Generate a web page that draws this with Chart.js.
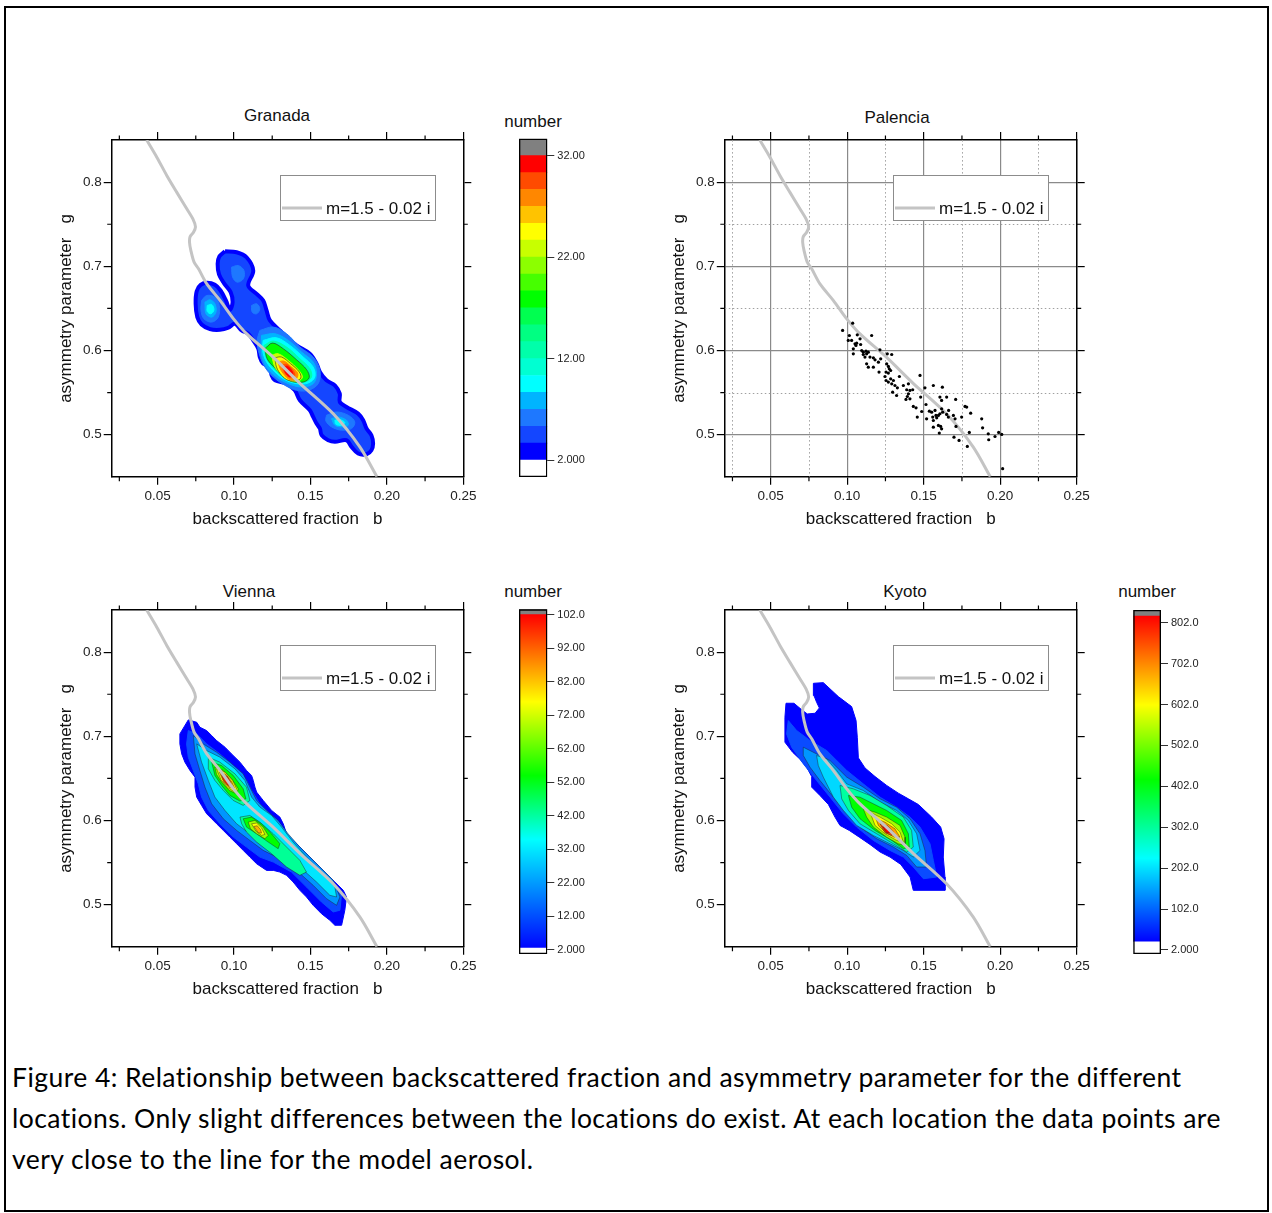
<!DOCTYPE html>
<html>
<head>
<meta charset="utf-8">
<script src="https://cdn.jsdelivr.net/npm/chart.js@4.4.1/dist/chart.umd.min.js"></script>
<style>
  body { margin: 0; background: #fff; width: 1272px; height: 1213px; position: relative; overflow: hidden;
         font-family: "Liberation Sans", Arial, sans-serif; color: #111; }
  .frame { position: absolute; left: 4px; top: 6px; width: 1261px; height: 1202px; border: 2px solid #000; }
  canvas { position: absolute; }
  .lbl { position: absolute; font-size: 17px; line-height: 1; transform: translate(-50%, -50%); white-space: nowrap; }
  .caption { position: absolute; left: 12px; top: 1057px; font-family: Lato, "Open Sans", sans-serif;
             font-size: 26.5px; letter-spacing: 0.45px; line-height: 41px; white-space: nowrap; color: #000; }
</style>
</head>
<body>
<div class="frame"></div>

<div class="lbl" style="left:277px; top:115px;">Granada</div>
<div class="lbl" style="left:897px; top:117px;">Palencia</div>
<div class="lbl" style="left:249px; top:591px;">Vienna</div>
<div class="lbl" style="left:905px; top:591px;">Kyoto</div>
<div class="lbl" style="left:533px; top:121px;">number</div>
<div class="lbl" style="left:533px; top:591px;">number</div>
<div class="lbl" style="left:1147px; top:591px;">number</div>

<canvas id="granada" width="440" height="410" style="left:40px; top:130px;"></canvas>
<canvas id="palencia" width="440" height="410" style="left:653px; top:130px;"></canvas>
<canvas id="vienna" width="440" height="410" style="left:40px; top:600px;"></canvas>
<canvas id="kyoto" width="440" height="410" style="left:653px; top:600px;"></canvas>
<canvas id="barGranada" width="100" height="360" style="left:505px; top:128px;"></canvas>
<canvas id="barVienna" width="100" height="367" style="left:505px; top:598px;"></canvas>
<canvas id="barKyoto" width="100" height="367" style="left:1119px; top:598px;"></canvas>

<div class="caption">Figure 4: Relationship between backscattered fraction and asymmetry parameter for the different<br>locations. Only slight differences between the locations do exist. At each location the data points are<br>very close to the line for the model aerosol.</div>

<script>
// axes
const bMajor = [0.05, 0.10, 0.15, 0.20, 0.25];
const bMinor = [0.025, 0.075, 0.125, 0.175, 0.225];
const gMajor = [0.5, 0.6, 0.7, 0.8];
const gMinor = [0.55, 0.65, 0.75];

// model aerosol line, m = 1.5 - 0.02 i
const curveB = [0.0429, 0.0496, 0.0561, 0.0626, 0.0692, 0.0731, 0.0748, 0.0735, 0.0713, 0.0709, 0.0718,
                0.0739, 0.0768, 0.0822, 0.0910, 0.0997, 0.1082, 0.1256, 0.1431, 0.1648, 0.1823, 0.1935];
const curveG = [0.85, 0.8294, 0.8077, 0.7879, 0.7681, 0.7563, 0.7470, 0.7404, 0.7353, 0.7286, 0.7187,
                0.7049, 0.6970, 0.6791, 0.6593, 0.6376, 0.620, 0.592, 0.561, 0.525, 0.4854, 0.45];

// Palencia single measurements
const palB = [0.0970,0.1036,0.1014,0.1066,0.1084,0.1007,0.1029,0.1051,0.1062,0.1057,
  0.1040,0.1088,0.1160,0.1095,0.1105,0.1123,0.1138,0.1127,0.1105,0.1040,
  0.1116,0.1149,0.1182,0.1171,0.1214,0.1219,0.1204,0.1127,0.1138,0.1171,
  0.1208,0.1262,0.1291,0.1258,0.1269,0.1275,0.1284,0.1254,0.1269,0.1247,
  0.1254,0.1269,0.1284,0.1302,0.1291,0.1312,0.1341,0.1328,0.1297,0.1323,
  0.1367,0.1400,0.1389,0.1410,0.1428,0.1400,0.1393,0.1410,0.1384,0.1432,
  0.1450,0.1458,0.1476,0.1480,0.1508,0.1515,0.1519,0.1487,0.1537,0.1552,
  0.1563,0.1574,0.1580,0.1585,0.1596,0.1606,0.1559,0.1563,0.1606,0.1617,
  0.1622,0.1650,0.1617,0.1624,0.1650,0.1663,0.1661,0.1563,0.1596,0.1611,
  0.1617,0.1602,0.1694,0.1705,0.1711,0.1698,0.1731,0.1709,0.1748,0.1770,
  0.1781,0.1807,0.1798,0.1785,0.1879,0.1885,0.1922,0.1925,0.1966,0.1990,
  0.2010,0.2016];
const palG = [0.6238,0.6325,0.6178,0.6186,0.6139,0.6119,0.6119,0.6079,0.6087,0.6059,
  0.6020,0.6071,0.6178,0.6000,0.5980,0.5992,0.5980,0.5960,0.5952,0.5960,
  0.5921,0.5921,0.5889,0.5913,0.6008,0.5901,0.5861,0.5841,0.5802,0.5802,
  0.5743,0.5960,0.5952,0.5841,0.5810,0.5782,0.5762,0.5743,0.5731,0.5691,
  0.5643,0.5624,0.5663,0.5643,0.5604,0.5584,0.5691,0.5556,0.5505,0.5465,
  0.5584,0.5604,0.5533,0.5525,0.5533,0.5485,0.5453,0.5426,0.5418,0.5335,
  0.5319,0.5208,0.5703,0.5446,0.5556,0.5358,0.5188,0.5275,0.5279,0.5267,
  0.5584,0.5287,0.5228,0.5200,0.5228,0.5248,0.5208,0.5168,0.5446,0.5406,
  0.5564,0.5446,0.5307,0.5267,0.5240,0.5287,0.5208,0.5089,0.5109,0.5097,
  0.5069,0.5018,0.5228,0.5188,0.5097,0.4970,0.4931,0.5418,0.5208,0.5335,
  0.5327,0.5255,0.5026,0.4860,0.5188,0.5081,0.5010,0.4939,0.4978,0.5026,
  0.5002,0.4595];

// Granada density contours, [b, g] outlines
const gOuter = [[0.0941,0.7179],[0.1017,0.7167],[0.1082,0.7108],[0.1126,0.6950],[0.1093,0.6772],[0.1148,0.6673],
  [0.1191,0.6594],[0.1213,0.6476],[0.1235,0.6357],[0.1300,0.6238],[0.1344,0.6159],[0.1409,0.6060],[0.1496,0.5961],
  [0.1540,0.5843],[0.1562,0.5744],[0.1605,0.5645],[0.1660,0.5586],[0.1692,0.5487],[0.1692,0.5388],[0.1736,0.5329],
  [0.1812,0.5250],[0.1845,0.5171],[0.1867,0.5072],[0.1899,0.4993],[0.1910,0.4894],[0.1899,0.4815],[0.1867,0.4767],
  [0.1812,0.4775],[0.1769,0.4854],[0.1736,0.4933],[0.1660,0.4914],[0.1616,0.4933],[0.1573,0.4993],[0.1562,0.5072],
  [0.1540,0.5131],[0.1518,0.5210],[0.1496,0.5289],[0.1431,0.5408],[0.1398,0.5526],[0.1344,0.5606],[0.1268,0.5645],
  [0.1246,0.5704],[0.1235,0.5803],[0.1191,0.5843],[0.1169,0.5922],[0.1159,0.6021],[0.1126,0.6120],[0.1093,0.6199],
  [0.1050,0.6238],[0.1006,0.6317],[0.0963,0.6270],[0.0908,0.6246],[0.0843,0.6254],[0.0788,0.6309],[0.0760,0.6396],
  [0.0749,0.6555],[0.0756,0.6705],[0.0782,0.6780],[0.0825,0.6804],[0.0875,0.6780],[0.0912,0.6713],[0.0947,0.6594],
  [0.0973,0.6483],[0.0991,0.6574],[0.0978,0.6693],[0.0934,0.6800],[0.0902,0.6903],[0.0893,0.7029],[0.0904,0.7116]];
const gTop3 = [[0.0984,0.6990],[0.1028,0.7009],[0.1065,0.6950],[0.1061,0.6851],[0.1021,0.6812],[0.0991,0.6871]];
const gLeft3 = [[0.0788,0.6594],[0.0821,0.6653],[0.0875,0.6634],[0.0904,0.6535],[0.0897,0.6396],[0.0854,0.6337],[0.0803,0.6377],[0.0784,0.6476]];
const gMid3 = [[0.1115,0.6535],[0.1148,0.6555],[0.1169,0.6495],[0.1148,0.6436],[0.1119,0.6456]];
const gLow3 = [[0.1605,0.5230],[0.1671,0.5269],[0.1747,0.5230],[0.1790,0.5151],[0.1769,0.5072],[0.1703,0.5053],[0.1638,0.5092],[0.1601,0.5163]];
const gCore3 = [[0.1169,0.6238],[0.1257,0.6278],[0.1344,0.6199],[0.1431,0.6041],[0.1518,0.5922],[0.1562,0.5764],[0.1551,0.5606],
  [0.1485,0.5526],[0.1409,0.5526],[0.1333,0.5586],[0.1257,0.5685],[0.1202,0.5803],[0.1165,0.5961],[0.1152,0.6120]];
const gLeft4 = [[0.0810,0.6574],[0.0843,0.6602],[0.0875,0.6555],[0.0882,0.6456],[0.0854,0.6396],[0.0817,0.6436]];
const gLow4 = [[0.1638,0.5190],[0.1681,0.5210],[0.1736,0.5171],[0.1747,0.5111],[0.1703,0.5092],[0.1660,0.5111]];
const gCore4 = [[0.1180,0.6179],[0.1268,0.6199],[0.1355,0.6120],[0.1442,0.5981],[0.1518,0.5863],[0.1540,0.5724],[0.1518,0.5606],
  [0.1442,0.5566],[0.1355,0.5606],[0.1278,0.5685],[0.1213,0.5803],[0.1180,0.5961]];
const gLeft5 = [[0.0825,0.6535],[0.0854,0.6547],[0.0869,0.6483],[0.0849,0.6436],[0.0825,0.6464]];
const gLow5 = [[0.1660,0.5171],[0.1692,0.5179],[0.1725,0.5143],[0.1703,0.5111],[0.1666,0.5123]];
const gCore5 = [[0.1191,0.6120],[0.1278,0.6151],[0.1366,0.6060],[0.1453,0.5922],[0.1518,0.5803],[0.1529,0.5685],[0.1485,0.5613],
  [0.1409,0.5606],[0.1333,0.5653],[0.1268,0.5744],[0.1213,0.5863],[0.1187,0.6001]];
const gCore6 = [[0.1196,0.6060],[0.1257,0.6112],[0.1344,0.6041],[0.1431,0.5902],[0.1496,0.5784],[0.1507,0.5685],[0.1464,0.5625],
  [0.1387,0.5625],[0.1322,0.5685],[0.1261,0.5784],[0.1213,0.5902]];
const gCore7 = [[0.1202,0.6021],[0.1252,0.6088],[0.1322,0.6021],[0.1409,0.5890],[0.1475,0.5772],[0.1492,0.5677],[0.1453,0.5625],
  [0.1376,0.5633],[0.1318,0.5704],[0.1261,0.5803],[0.1217,0.5902]];
const gCore8 = [[0.1246,0.5942],[0.1289,0.5961],[0.1355,0.5882],[0.1420,0.5772],[0.1448,0.5685],[0.1420,0.5637],[0.1361,0.5645],
  [0.1311,0.5716],[0.1268,0.5803]];
const gCore9 = [[0.1268,0.5914],[0.1311,0.5922],[0.1370,0.5843],[0.1427,0.5744],[0.1437,0.5673],[0.1409,0.5641],[0.1355,0.5645],
  [0.1311,0.5704],[0.1278,0.5803]];
const gCore10 = [[0.1289,0.5863],[0.1326,0.5874],[0.1376,0.5803],[0.1416,0.5732],[0.1409,0.5665],[0.1366,0.5653],[0.1326,0.5716],[0.1300,0.5791]];
const gCore11 = [[0.1311,0.5823],[0.1344,0.5835],[0.1383,0.5772],[0.1398,0.5704],[0.1370,0.5677],[0.1337,0.5724]];
const gCore12 = [[0.1326,0.5803],[0.1350,0.5811],[0.1379,0.5756],[0.1383,0.5700],[0.1359,0.5693],[0.1335,0.5744]];

// Granada colour levels (number of cases)
const granadaLevels = [0.33, 2, 3.67, 5.33, 7, 8.67, 10.33, 12, 13.67, 15.33, 17, 18.67, 20.33, 22, 23.67, 25.33, 27, 28.67, 30.33, 32, 33.67];
const granadaBandColors = ['#0000ff','#1446ff','#1e78ff','#00b4ff','#00ffff','#00ffd2','#00ffaa','#00ff82','#00ff50',
  '#00ff00','#46ff00','#8cff00','#c8ff00','#ffff00','#ffc300','#ff8700','#ff4b00','#ff0000'];
const granadaTicks = [2, 12, 22, 32];
const granadaTickLabels = ['2.000', '12.00', '22.00', '32.00'];
const granadaContours = [gOuter, gTop3, gLeft3, gMid3, gLow3, gCore3, gLeft4, gLow4, gCore4, gLeft5, gLow5, gCore5,
  gCore6, gCore7, gCore8, gCore9, gCore10, gCore11, gCore12];
const granadaContourBand = [1, 2, 2, 2, 2, 2, 3, 3, 3, 4, 4, 4, 6, 9, 12, 13, 15, 16, 17];

// Vienna density contours
const vOuter = [[0.0646,0.7029],[0.0701,0.7195],[0.0756,0.7167],[0.0777,0.7108],[0.0821,0.7068],[0.0854,0.7009],[0.0886,0.6950],
  [0.0941,0.6871],[0.0984,0.6791],[0.1039,0.6693],[0.1082,0.6594],[0.1115,0.6535],[0.1126,0.6476],[0.1137,0.6396],[0.1148,0.6337],
  [0.1191,0.6238],[0.1246,0.6119],[0.1300,0.6040],[0.1322,0.5961],[0.1344,0.5842],[0.1387,0.5763],[0.1431,0.5684],[0.1474,0.5605],
  [0.1518,0.5526],[0.1561,0.5447],[0.1605,0.5368],[0.1660,0.5269],[0.1715,0.5170],[0.1736,0.5091],[0.1725,0.4933],[0.1704,0.4755],
  [0.1660,0.4755],[0.1627,0.4814],[0.1572,0.4893],[0.1518,0.4992],[0.1474,0.5091],[0.1431,0.5170],[0.1387,0.5269],[0.1344,0.5348],
  [0.1300,0.5387],[0.1257,0.5407],[0.1213,0.5407],[0.1148,0.5486],[0.1104,0.5565],[0.1060,0.5645],[0.1017,0.5724],[0.0973,0.5803],
  [0.0930,0.5882],[0.0886,0.5961],[0.0854,0.6020],[0.0821,0.6080],[0.0788,0.6179],[0.0756,0.6278],[0.0745,0.6396],[0.0745,0.6515],
  [0.0712,0.6594],[0.0679,0.6693],[0.0658,0.6791],[0.0646,0.6910]];
const vL2 = [[0.0701,0.7068],[0.0756,0.7029],[0.0821,0.6910],[0.0908,0.6791],[0.1006,0.6634],[0.1082,0.6476],[0.1115,0.6357],
  [0.1169,0.6198],[0.1257,0.6040],[0.1322,0.5882],[0.1409,0.5724],[0.1518,0.5526],[0.1627,0.5328],[0.1704,0.5131],[0.1693,0.4933],
  [0.1649,0.4913],[0.1572,0.5032],[0.1474,0.5210],[0.1376,0.5387],[0.1257,0.5506],[0.1169,0.5565],[0.1082,0.5684],[0.0995,0.5803],
  [0.0908,0.5961],[0.0832,0.6119],[0.0788,0.6278],[0.0766,0.6436],[0.0734,0.6594],[0.0701,0.6752],[0.0690,0.6910]];
const vL3 = [[0.0734,0.7009],[0.0799,0.6910],[0.0886,0.6811],[0.0973,0.6693],[0.1060,0.6554],[0.1104,0.6396],[0.1148,0.6238],
  [0.1213,0.6119],[0.1289,0.6001],[0.1354,0.5842],[0.1431,0.5684],[0.1540,0.5486],[0.1649,0.5289],[0.1693,0.5091],[0.1671,0.4992],
  [0.1605,0.5071],[0.1518,0.5229],[0.1409,0.5407],[0.1300,0.5546],[0.1191,0.5645],[0.1104,0.5763],[0.1017,0.5882],[0.0930,0.6020],
  [0.0854,0.6198],[0.0810,0.6396],[0.0777,0.6594],[0.0745,0.6791]];
const vL4 = [[0.0756,0.6910],[0.0821,0.6831],[0.0908,0.6752],[0.1006,0.6614],[0.1071,0.6476],[0.1115,0.6278],[0.1169,0.6159],
  [0.1246,0.6060],[0.1311,0.5921],[0.1387,0.5743],[0.1474,0.5565],[0.1572,0.5387],[0.1660,0.5210],[0.1671,0.5091],[0.1627,0.5111],
  [0.1540,0.5269],[0.1431,0.5447],[0.1322,0.5605],[0.1202,0.5704],[0.1104,0.5842],[0.1017,0.5961],[0.0941,0.6119],[0.0875,0.6278],
  [0.0832,0.6476],[0.0788,0.6693]];
const vUp5 = [[0.0832,0.6752],[0.0908,0.6693],[0.1006,0.6554],[0.1082,0.6396],[0.1104,0.6238],[0.1060,0.6179],[0.0995,0.6238],[0.0930,0.6357],[0.0875,0.6476],[0.0832,0.6614]];
const vUp6 = [[0.0854,0.6693],[0.0919,0.6653],[0.0995,0.6535],[0.1060,0.6377],[0.1078,0.6258],[0.1039,0.6230],[0.0973,0.6297],[0.0919,0.6416],[0.0875,0.6535]];
const vUp7 = [[0.0875,0.6634],[0.0930,0.6594],[0.0984,0.6495],[0.1028,0.6377],[0.1017,0.6317],[0.0969,0.6357],[0.0919,0.6456],[0.0886,0.6546]];
const vUp8 = [[0.0886,0.6614],[0.0941,0.6574],[0.0991,0.6476],[0.1017,0.6377],[0.0995,0.6349],[0.0956,0.6396],[0.0915,0.6483]];
const vUp9 = [[0.0904,0.6574],[0.0947,0.6546],[0.0984,0.6464],[0.1002,0.6389],[0.0973,0.6389],[0.0936,0.6448]];
const vUp10 = [[0.0919,0.6542],[0.0956,0.6523],[0.0978,0.6456],[0.0984,0.6404],[0.0956,0.6424],[0.0930,0.6483]];
const vLo5 = [[0.1039,0.6040],[0.1104,0.6060],[0.1169,0.5981],[0.1257,0.5842],[0.1344,0.5684],[0.1431,0.5526],[0.1474,0.5387],
  [0.1431,0.5348],[0.1344,0.5447],[0.1246,0.5605],[0.1148,0.5743],[0.1082,0.5862],[0.1050,0.5961]];
const vLo6 = [[0.1060,0.6020],[0.1115,0.6040],[0.1180,0.5961],[0.1246,0.5842],[0.1300,0.5724],[0.1289,0.5664],[0.1224,0.5743],[0.1148,0.5842],[0.1082,0.5921]];
const vLo7 = [[0.1093,0.5981],[0.1137,0.6001],[0.1191,0.5921],[0.1224,0.5823],[0.1202,0.5783],[0.1148,0.5842],[0.1108,0.5902]];
const vLo8 = [[0.1115,0.5961],[0.1148,0.5969],[0.1180,0.5913],[0.1202,0.5834],[0.1180,0.5823],[0.1143,0.5874]];
const vLo9 = [[0.1130,0.5929],[0.1152,0.5937],[0.1174,0.5890],[0.1180,0.5850],[0.1159,0.5854]];
const viennaContours = [vOuter, vL2, vL3, vL4, vUp5, vUp6, vUp7, vUp8, vUp9, vUp10, vLo5, vLo6, vLo7, vLo8, vLo9];
const viennaColors = ['#0000ff','#0a4bff','#0096ff','#00e6ff','#00ff96','#00ff00','#a0ff00','#ffff00','#ffa000','#ff2000',
  '#00ff96','#00ff00','#a0ff00','#ffff00','#ffb000'];
const viennaTicks = [2, 12, 22, 32, 42, 52, 62, 72, 82, 92, 102];
const viennaTickLabels = ['2.000','12.00','22.00','32.00','42.00','52.00','62.00','72.00','82.00','92.00','102.0'];
const viennaStops = [[2, '#0000ff'], [35, '#00ffff'], [54, '#00ff00'], [76, '#ffff00'], [102, '#ff0000']];

// Kyoto density contours
const kOuter = [[0.0600,0.7393],[0.0652,0.7393],[0.0709,0.7306],[0.0739,0.7266],[0.0790,0.7274],[0.0818,0.7337],[0.0800,0.7405],
  [0.0783,0.7484],[0.0779,0.7630],[0.0844,0.7638],[0.0942,0.7472],[0.1029,0.7353],[0.1058,0.7187],[0.1066,0.6989],[0.1073,0.6744],
  [0.1116,0.6625],[0.1182,0.6522],[0.1258,0.6416],[0.1334,0.6325],[0.1400,0.6257],[0.1465,0.6190],[0.1552,0.6040],[0.1611,0.5921],
  [0.1633,0.5783],[0.1628,0.5565],[0.1639,0.5328],[0.1639,0.5170],[0.1432,0.5170],[0.1411,0.5328],[0.1350,0.5478],[0.1280,0.5565],
  [0.1215,0.5625],[0.1149,0.5715],[0.1079,0.5802],[0.1014,0.5881],[0.0953,0.5941],[0.0920,0.6040],[0.0877,0.6190],[0.0822,0.6297],
  [0.0768,0.6396],[0.0768,0.6522],[0.0735,0.6633],[0.0696,0.6720],[0.0643,0.6811],[0.0593,0.6930],[0.0593,0.7227]];
const kL2 = [[0.0615,0.7187],[0.0670,0.7068],[0.0757,0.6950],[0.0866,0.6831],[0.0997,0.6594],[0.1105,0.6435],[0.1215,0.6277],
  [0.1323,0.6158],[0.1411,0.6040],[0.1476,0.5921],[0.1541,0.5723],[0.1563,0.5526],[0.1585,0.5328],[0.1498,0.5308],[0.1432,0.5447],
  [0.1367,0.5565],[0.1280,0.5644],[0.1171,0.5763],[0.1062,0.5921],[0.0975,0.6079],[0.0888,0.6277],[0.0800,0.6475],[0.0713,0.6673],
  [0.0637,0.6871],[0.0604,0.7029]];
const kL3 = [[0.0713,0.6871],[0.0800,0.6791],[0.0888,0.6712],[0.0997,0.6515],[0.1105,0.6396],[0.1215,0.6257],[0.1323,0.6158],
  [0.1411,0.6020],[0.1476,0.5842],[0.1508,0.5644],[0.1519,0.5447],[0.1454,0.5447],[0.1389,0.5585],[0.1302,0.5684],[0.1193,0.5783],
  [0.1084,0.5921],[0.0997,0.6079],[0.0910,0.6277],[0.0822,0.6475],[0.0757,0.6633],[0.0713,0.6772]];
const kL4 = [[0.0800,0.6772],[0.0866,0.6732],[0.0931,0.6594],[0.0997,0.6435],[0.1105,0.6356],[0.1215,0.6218],[0.1323,0.6119],
  [0.1400,0.6000],[0.1454,0.5842],[0.1476,0.5644],[0.1432,0.5565],[0.1367,0.5644],[0.1280,0.5723],[0.1171,0.5822],[0.1062,0.5941],
  [0.0975,0.6119],[0.0910,0.6277],[0.0844,0.6515],[0.0811,0.6653]];
const kL5 = [[0.0953,0.6416],[0.1040,0.6376],[0.1149,0.6297],[0.1258,0.6178],[0.1367,0.6040],[0.1421,0.5881],[0.1432,0.5684],
  [0.1389,0.5625],[0.1302,0.5723],[0.1193,0.5842],[0.1084,0.5960],[0.1008,0.6119],[0.0964,0.6257]];
const kL6 = [[0.1008,0.6297],[0.1084,0.6277],[0.1171,0.6198],[0.1258,0.6119],[0.1356,0.6000],[0.1400,0.5842],[0.1406,0.5684],
  [0.1367,0.5664],[0.1291,0.5763],[0.1182,0.5881],[0.1084,0.6020],[0.1029,0.6158]];
const kL7 = [[0.1105,0.6139],[0.1182,0.6099],[0.1258,0.6040],[0.1345,0.5941],[0.1378,0.5802],[0.1378,0.5704],[0.1334,0.5723],
  [0.1258,0.5802],[0.1171,0.5921],[0.1127,0.6040]];
const kL8 = [[0.1149,0.6099],[0.1215,0.6040],[0.1291,0.5960],[0.1345,0.5862],[0.1367,0.5744],[0.1323,0.5763],[0.1247,0.5842],[0.1182,0.5941]];
const kL9 = [[0.1188,0.6020],[0.1247,0.5980],[0.1312,0.5901],[0.1345,0.5802],[0.1306,0.5802],[0.1247,0.5862],[0.1204,0.5941]];
const kL10 = [[0.1215,0.5960],[0.1262,0.5941],[0.1302,0.5862],[0.1291,0.5822],[0.1247,0.5854]];
const kL11 = [[0.1232,0.5929],[0.1264,0.5913],[0.1284,0.5854],[0.1258,0.5854]];
const kyotoContours = [kOuter, kL2, kL3, kL4, kL5, kL6, kL7, kL8, kL9, kL10, kL11];
const kyotoColors = ['#0000ff','#0a4bff','#0096ff','#00d8ff','#00ffa0','#00ff00','#a0ff00','#ffff00','#ffa000','#ff4000','#ff0000'];
const kyotoTicks = [2, 102, 202, 302, 402, 502, 602, 702, 802];
const kyotoTickLabels = ['2.000','102.0','202.0','302.0','402.0','502.0','602.0','702.0','802.0'];
const kyotoStops = [[22, '#0000ff'], [226, '#00ffff'], [418, '#00ff00'], [601, '#ffff00'], [818, '#ff0000']];

const FONT = '"Liberation Sans", Arial, sans-serif';

// short minor ticks on all four sides, dotted minor grid for the scatter panel
const minorTicks = {
  id: 'minorTicks',
  beforeDatasetsDraw(chart, args, opts) {
    if (!opts.dotted) return;
    const {ctx, chartArea: a, scales} = chart;
    ctx.save();
    ctx.strokeStyle = '#a0a0a0';
    ctx.lineWidth = 1;
    ctx.setLineDash([1.5, 2.5]);
    ctx.beginPath();
    bMinor.forEach(v => {
      const px = Math.round(scales.x.getPixelForValue(v)) + 0.5;
      ctx.moveTo(px, a.top); ctx.lineTo(px, a.bottom);
    });
    gMinor.forEach(v => {
      const py = Math.round(scales.y.getPixelForValue(v)) + 0.5;
      ctx.moveTo(a.left, py); ctx.lineTo(a.right, py);
    });
    ctx.stroke();
    ctx.restore();
  },
  afterDraw(chart) {
    const {ctx, chartArea: a, scales} = chart;
    const len = 4.5;
    ctx.save();
    ctx.strokeStyle = '#000';
    ctx.lineWidth = 1.2;
    ctx.beginPath();
    bMinor.forEach(v => {
      const px = scales.x.getPixelForValue(v);
      ctx.moveTo(px, a.bottom); ctx.lineTo(px, a.bottom + len);
      ctx.moveTo(px, a.top); ctx.lineTo(px, a.top - len);
    });
    gMinor.forEach(v => {
      const py = scales.y.getPixelForValue(v);
      ctx.moveTo(a.left, py); ctx.lineTo(a.left - len, py);
      ctx.moveTo(a.right, py); ctx.lineTo(a.right + len, py);
    });
    ctx.stroke();
    ctx.restore();
  }
};

// framed legend with an empty first row, like the Origin default
const boxLegend = {
  id: 'boxLegend',
  afterDatasetsDraw(chart, args, opts) {
    const {ctx, chartArea: a} = chart;
    const ds = chart.data.datasets.find(d => d.label);
    const left = Math.round(a.left + opts.left), top = Math.round(a.top + opts.top);
    ctx.save();
    ctx.fillStyle = '#fff';
    ctx.fillRect(left, top, opts.width, opts.height);
    ctx.strokeStyle = '#8c8c8c';
    ctx.lineWidth = 1;
    ctx.strokeRect(left + 0.5, top + 0.5, opts.width, opts.height);
    const ly = top + opts.height - 12;
    ctx.strokeStyle = ds.borderColor;
    ctx.lineWidth = ds.borderWidth;
    ctx.beginPath();
    ctx.moveTo(left + 2, ly);
    ctx.lineTo(left + 42, ly);
    ctx.stroke();
    ctx.fillStyle = '#111';
    ctx.font = '17px ' + FONT;
    ctx.textBaseline = 'middle';
    ctx.fillText(ds.label, left + 46, ly + 1);
    ctx.restore();
  }
};

function pts(list) {
  return list.concat([list[0]]).map(p => ({x: p[0], y: p[1]}));
}

function contourSets(contours, fills, edges, smooth) {
  return contours.map((c, i) => ({
    data: pts(c),
    backgroundColor: fills[i],
    borderColor: edges[i] ? edges[i][0] : fills[i],
    borderWidth: edges[i] ? edges[i][1] : 1,
    fill: 'shape',
    pointRadius: 0,
    tension: smooth ? 0.35 : 0,
    order: 100 - i
  }));
}

function curveSet() {
  return {
    label: 'm=1.5 - 0.02 i',
    data: curveB.map((b, i) => ({x: b, y: curveG[i]})),
    borderColor: '#c4c4c4',
    borderWidth: 3,
    pointRadius: 0,
    fill: false,
    tension: 0.3,
    order: 1
  };
}

function plotChart(id, datasets, o) {
  const tickFont = {family: FONT, size: 13.5};
  const titleFont = {family: FONT, size: 17};
  const setTicks = vals => s => { s.ticks = vals.map(v => ({value: v})); };
  const axisLine = {display: true, color: '#000', width: 1.5};
  const grid = on => ({drawOnChartArea: on, color: '#8a8a8a', lineWidth: 1.2, tickLength: 8, tickColor: '#000', tickWidth: 1.2});
  new Chart(document.getElementById(id), {
    type: 'line',
    data: {datasets},
    options: {
      responsive: false,
      animation: false,
      layout: {padding: 0, autoPadding: false},
      plugins: {
        legend: {display: false},
        tooltip: {enabled: false},
        minorTicks: {dotted: o.grid},
        boxLegend: {left: 168.5, top: 34.7, width: 155, height: 45}
      },
      scales: {
        x: {
          type: 'linear', position: 'bottom', min: 0.02, max: 0.25,
          afterBuildTicks: setTicks(bMajor),
          afterFit: s => { s.height = 63.3; },
          ticks: {font: tickFont, color: '#222', padding: 3, maxRotation: 0, callback: v => v.toFixed(2)},
          grid: grid(o.grid), border: axisLine,
          title: {display: true, text: 'backscattered fraction   b', font: titleFont, color: '#111', padding: {top: 0, bottom: 10}}
        },
        x2: {
          type: 'linear', position: 'top', min: 0.02, max: 0.25,
          afterBuildTicks: setTicks(bMajor),
          afterFit: s => { s.height = 9.3; },
          ticks: {display: false},
          grid: grid(false), border: axisLine
        },
        y: {
          type: 'linear', position: 'left', min: 0.45, max: 0.85,
          afterBuildTicks: setTicks(gMajor),
          afterFit: s => { s.width = o.left; },
          ticks: {font: tickFont, color: '#222', padding: 2, callback: v => v.toFixed(1)},
          grid: grid(o.grid), border: axisLine,
          title: {display: true, text: 'asymmetry parameter   g', font: titleFont, color: '#111', padding: {top: 16, bottom: 0}}
        },
        y2: {
          type: 'linear', position: 'right', min: 0.45, max: 0.85,
          afterBuildTicks: setTicks(gMajor),
          afterFit: s => { s.width = o.right; },
          ticks: {display: false},
          grid: grid(false), border: axisLine
        }
      }
    },
    plugins: [minorTicks, boxLegend]
  });
}

function rainbow(stops) {
  return c => {
    const chart = c.chart;
    const y = chart.scales.y;
    if (!chart.chartArea || !y) return stops[0][1];
    const lo = stops[0][0], hi = stops[stops.length - 1][0];
    const g = chart.ctx.createLinearGradient(0, y.getPixelForValue(lo), 0, y.getPixelForValue(hi));
    stops.forEach(s => g.addColorStop((s[0] - lo) / (hi - lo), s[1]));
    return g;
  };
}

function colorbar(id, bands, o) {
  const sets = bands.map(b => ({
    data: [[b[0], b[1]]], backgroundColor: b[2], borderWidth: 0,
    grouped: false, barPercentage: 1, categoryPercentage: 1, order: 1
  }));
  sets.push({
    data: [[o.min, o.max]], backgroundColor: 'rgba(0,0,0,0)', borderColor: '#000', borderWidth: 1,
    borderSkipped: false, grouped: false, barPercentage: 1, categoryPercentage: 1, order: 0
  });
  new Chart(document.getElementById(id), {
    type: 'bar',
    data: {labels: [''], datasets: sets},
    options: {
      responsive: false,
      animation: false,
      layout: {padding: {left: o.padLeft, top: o.padTop, bottom: o.padBottom, right: 0}, autoPadding: false},
      plugins: {legend: {display: false}, tooltip: {enabled: false}},
      scales: {
        x: {display: false},
        y: {
          position: 'right', min: o.min, max: o.max,
          afterBuildTicks: s => { s.ticks = o.ticks.map(v => ({value: v})); },
          afterFit: s => { s.width = o.axisWidth; },
          ticks: {font: {family: FONT, size: 11}, color: '#222', padding: 3, callback: (v, i) => o.labels[i]},
          grid: {drawOnChartArea: false, tickLength: 7, tickColor: '#333', tickWidth: 1},
          border: {display: false}
        }
      }
    }
  });
}

// Granada
plotChart('granada', [
  curveSet(),
  ...contourSets(granadaContours, granadaContourBand.map(k => granadaBandColors[k]),
    granadaContours.map((c, i) => i === 0 ? [granadaBandColors[0], 4] : (i === 13 || i === 15) ? ['rgba(40,40,40,0.6)', 1] : null), true)
], {grid: false, left: 71.7, right: 16.7});

// Palencia
plotChart('palencia', [
  {data: palB.map((b, i) => ({x: b, y: palG[i]})), showLine: false, pointRadius: 1.6,
   pointBackgroundColor: '#000', pointBorderWidth: 0, order: 0},
  curveSet()
], {grid: true, left: 71.8, right: 16.3});

// Vienna
plotChart('vienna', [
  curveSet(),
  ...contourSets(viennaContours, viennaColors,
    viennaContours.map((c, i) => i >= 2 ? ['rgba(30,30,30,0.55)', 0.8] : null), false)
], {grid: false, left: 71.7, right: 16.7});

// Kyoto
plotChart('kyoto', [
  curveSet(),
  ...contourSets(kyotoContours, kyotoColors,
    kyotoContours.map((c, i) => i >= 2 ? ['rgba(30,30,30,0.55)', 0.8] : null), false)
], {grid: false, left: 71.8, right: 16.3});

// colour scales
const granadaColors = ['#ffffff', ...granadaBandColors, '#808080'];
colorbar('barGranada',
  granadaColors.map((c, i) => [granadaLevels[i], granadaLevels[i + 1], c]),
  {min: 0.33, max: 33.67, ticks: granadaTicks, labels: granadaTickLabels, padLeft: 14, padTop: 10.7, padBottom: 11, axisWidth: 57.7});
colorbar('barVienna',
  [[0.8, 2.6, '#ffffff'], [2.6, 102, rainbow(viennaStops)], [102, 103.6, '#808080']],
  {min: 0.8, max: 103.6, ticks: viennaTicks, labels: viennaTickLabels, padLeft: 14, padTop: 11.3, padBottom: 11, axisWidth: 57.7});
colorbar('barKyoto',
  [[-8, 22, '#ffffff'], [22, 818, rainbow(kyotoStops)], [818, 833, '#808080']],
  {min: -8, max: 833, ticks: kyotoTicks, labels: kyotoTickLabels, padLeft: 14.3, padTop: 12, padBottom: 11, axisWidth: 58});
</script>
</body>
</html>
